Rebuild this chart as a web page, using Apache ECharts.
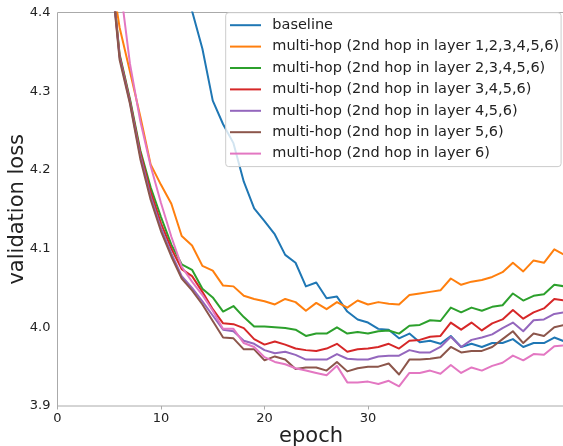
<!DOCTYPE html>
<html>
<head>
<meta charset="utf-8">
<script src="https://cdn.jsdelivr.net/npm/echarts@6/dist/echarts.min.js"></script>
<style>
  html, body { margin: 0; padding: 0; background: #fff; }
  #chart { width: 563px; height: 446px; }
</style>
</head>
<body>
<div id="chart"></div>
<script>
const epochs = [0,1,2,3,4,5,6,7,8,9,10,11,12,13,14,15,16,17,18,19,20,21,22,23,24,25,26,27,28,29,30,31,32,33,34,35,36,37,38,39,40,41,42,43,44,45,46,47,48,49];

const seriesNames = [
  'baseline',
  'multi-hop (2nd hop in layer 1,2,3,4,5,6)',
  'multi-hop (2nd hop in layer 2,3,4,5,6)',
  'multi-hop (2nd hop in layer 3,4,5,6)',
  'multi-hop (2nd hop in layer 4,5,6)',
  'multi-hop (2nd hop in layer 5,6)',
  'multi-hop (2nd hop in layer 6)'
];

const colors = ['#1f77b4', '#ff7f0e', '#2ca02c', '#d62728', '#9467bd', '#8c564b', '#e377c2'];

const baseline = [6.30,5.60,5.25,5.02,4.88,4.78,4.70,4.64,4.59,4.54,4.50,4.47,4.44,4.402,4.354,4.288,4.258,4.234,4.185,4.151,4.135,4.118,4.092,4.082,4.052,4.057,4.037,4.039,4.020,4.010,4.006,3.998,3.997,3.986,3.992,3.981,3.983,3.979,3.989,3.975,3.979,3.975,3.980,3.980,3.985,3.975,3.980,3.980,3.987,3.982];

const hopL123456 = [6.00,5.30,4.95,4.74,4.58,4.465,4.381,4.325,4.268,4.207,4.181,4.157,4.116,4.104,4.078,4.072,4.053,4.052,4.040,4.036,4.033,4.029,4.036,4.032,4.021,4.031,4.023,4.032,4.025,4.034,4.029,4.032,4.030,4.029,4.041,4.043,4.045,4.047,4.062,4.054,4.058,4.060,4.064,4.070,4.082,4.071,4.085,4.082,4.099,4.092];

const hopL23456 = [6.00,5.30,4.95,4.73,4.57,4.48,4.347,4.290,4.225,4.178,4.140,4.105,4.080,4.073,4.049,4.038,4.020,4.027,4.013,4.001,4.001,4.000,3.999,3.997,3.989,3.992,3.992,4.000,3.992,3.994,3.992,3.995,3.996,3.992,4.002,4.003,4.009,4.008,4.025,4.019,4.025,4.021,4.026,4.028,4.043,4.034,4.040,4.042,4.054,4.052];

const hopL3456 = [6.00,5.30,4.95,4.73,4.57,4.48,4.345,4.288,4.222,4.172,4.132,4.100,4.074,4.065,4.045,4.023,4.005,4.004,3.999,3.985,3.978,3.982,3.978,3.973,3.971,3.970,3.973,3.979,3.969,3.972,3.973,3.975,3.979,3.973,3.983,3.984,3.988,3.989,4.006,3.997,4.006,3.996,4.005,4.010,4.022,4.011,4.019,4.024,4.036,4.034];

const hopL456 = [6.00,5.30,4.95,4.73,4.57,4.477,4.343,4.286,4.218,4.166,4.126,4.094,4.065,4.050,4.033,4.015,3.997,3.995,3.983,3.979,3.971,3.967,3.969,3.965,3.959,3.959,3.959,3.966,3.960,3.959,3.959,3.963,3.964,3.964,3.971,3.968,3.968,3.975,3.988,3.975,3.984,3.987,3.991,3.999,4.006,3.995,4.009,4.010,4.017,4.019];

const hopL56 = [6.00,5.30,4.95,4.73,4.57,4.475,4.340,4.284,4.214,4.162,4.122,4.090,4.062,4.047,4.029,4.008,3.987,3.986,3.972,3.972,3.958,3.963,3.959,3.947,3.949,3.949,3.945,3.956,3.944,3.948,3.950,3.950,3.954,3.940,3.959,3.959,3.960,3.962,3.975,3.968,3.970,3.970,3.975,3.985,3.995,3.980,3.992,3.989,4.000,4.003];

const hopL6 = [6.10,5.40,5.05,4.82,4.66,4.56,4.440,4.335,4.262,4.205,4.158,4.115,4.077,4.058,4.041,4.021,3.998,3.998,3.980,3.975,3.962,3.956,3.953,3.948,3.945,3.942,3.939,3.951,3.930,3.930,3.931,3.928,3.932,3.925,3.942,3.942,3.945,3.941,3.952,3.942,3.949,3.945,3.951,3.955,3.964,3.958,3.966,3.965,3.976,3.977];

const xTicks = [0, 10, 20, 30, 40];
const yTicks = [3.9, 4.0, 4.1, 4.2, 4.3, 4.4];

const allValues = [baseline, hopL123456, hopL23456, hopL3456, hopL456, hopL56, hopL6];

const FONT = 'DejaVu Sans';
const TEXT = '#222';

const chart = echarts.init(document.getElementById('chart'), null, { renderer: 'canvas' });

const series = allValues.map((vals, i) => ({
  name: seriesNames[i],
  type: 'line',
  data: epochs.map((e, k) => [e, vals[k]]),
  showSymbol: false,
  symbol: 'none',
  clip: true,
  animation: false,
  lineStyle: { color: colors[i], width: 2, join: 'round' },
  itemStyle: { color: colors[i] },
  emphasis: { disabled: true }
}));

chart.setOption({
  animation: false,
  backgroundColor: '#fff',
  color: colors,
  grid: {
    left: 57.5, top: 12.5, width: 507.15, height: 393.5,
    show: true, borderColor: '#aaa', borderWidth: 1, backgroundColor: 'transparent',
    containLabel: false,
    outerBoundsMode: 'none'
  },
  legend: {
    orient: 'vertical',
    left: 225.7, top: 12.7,
    padding: [4.5, 2, 5, 4.3],
    itemGap: 5.4,
    itemWidth: 31, itemHeight: 2,
    icon: 'rect',
    backgroundColor: 'rgba(255,255,255,0.8)',
    borderColor: '#ccc', borderWidth: 1, borderRadius: 3,
    textStyle: { fontFamily: FONT, fontSize: 14.5, color: TEXT, lineHeight: 16, padding: [0, 0, 0, 6.3] },
    data: seriesNames,
    selectedMode: false
  },
  xAxis: {
    type: 'value', min: 0, max: 49, interval: 10,
    name: 'epoch', nameLocation: 'middle', nameGap: 20, nameMoveOverlap: false,
    nameTextStyle: { fontFamily: FONT, fontSize: 21, color: TEXT },
    axisLine: { show: false },
    splitLine: { show: false },
    axisLabel: {
      fontFamily: FONT, fontSize: 13, color: TEXT, margin: 6,
      showMaxLabel: false,
      customValues: xTicks
    },
    axisTick: { show: true, length: 3.5, lineStyle: { color: '#aaa' }, customValues: xTicks }
  },
  yAxis: {
    type: 'value', min: 3.9, max: 4.4, interval: 0.1,
    name: 'validation loss', nameLocation: 'middle', nameGap: 29.4, nameRotate: 90, nameMoveOverlap: false,
    nameTextStyle: { fontFamily: FONT, fontSize: 21, color: TEXT },
    axisLine: { show: false },
    axisTick: { show: false },
    splitLine: { show: false },
    axisLabel: {
      fontFamily: FONT, fontSize: 13, color: TEXT, margin: 7,
      customValues: yTicks,
      formatter: v => v.toFixed(1)
    }
  },
  series: series
});
</script>
</body>
</html>
